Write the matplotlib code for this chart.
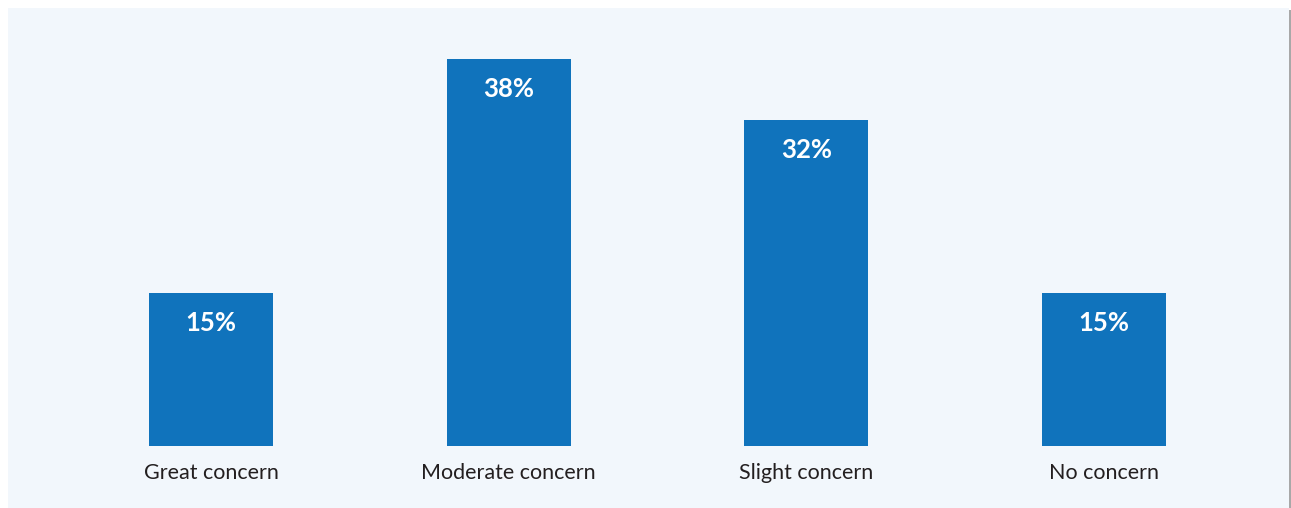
import matplotlib.pyplot as plt
from matplotlib.patches import Rectangle

categories = ["Great concern", "Moderate concern", "Slight concern", "No concern"]
values = [15, 38, 32, 15]
value_labels = ["15%", "38%", "32%", "15%"]

W, H = 1291, 508
fig = plt.figure(figsize=(W / 100, H / 100), dpi=100)
fig.patch.set_facecolor("white")

# panel background and right shadow
fig.patches.append(Rectangle((8 / W, 0), 1281 / W, 500 / H, transform=fig.transFigure,
                             facecolor="#f2f7fc", edgecolor="none", zorder=-2))
fig.patches.append(Rectangle((1289 / W, 0), 2.5 / W, 498 / H, transform=fig.transFigure,
                             facecolor="#a8a8a8", edgecolor="none", zorder=-2))

ax = fig.add_axes([8 / W, 62 / H, 1281 / W, 438 / H])
ax.set_zorder(1)
ax.patch.set_alpha(0)
x = range(len(categories))
ax.bar(x, values, width=0.4166, color="#1073bc", zorder=2)
ax.set_xlim(-0.682, 3.622)
ax.set_ylim(0, 43.0)

for xi, v, lab in zip(x, values, value_labels):
    ax.annotate(lab, (xi, v), xytext=(0, -30), textcoords="offset pixels",
                ha="center", va="center", color="white", fontsize=18.5,
                fontweight="bold", family="Lato")
for xi, c in zip(x, categories):
    ax.annotate(c, (xi, 0), xytext=(0, -27), textcoords="offset pixels",
                ha="center", va="center", color="#231f20", fontsize=15.5,
                family="Lato", annotation_clip=False)

for s in ax.spines.values():
    s.set_visible(False)
ax.set_xticks([])
ax.set_yticks([])

fig.savefig("out.png", dpi=100)
